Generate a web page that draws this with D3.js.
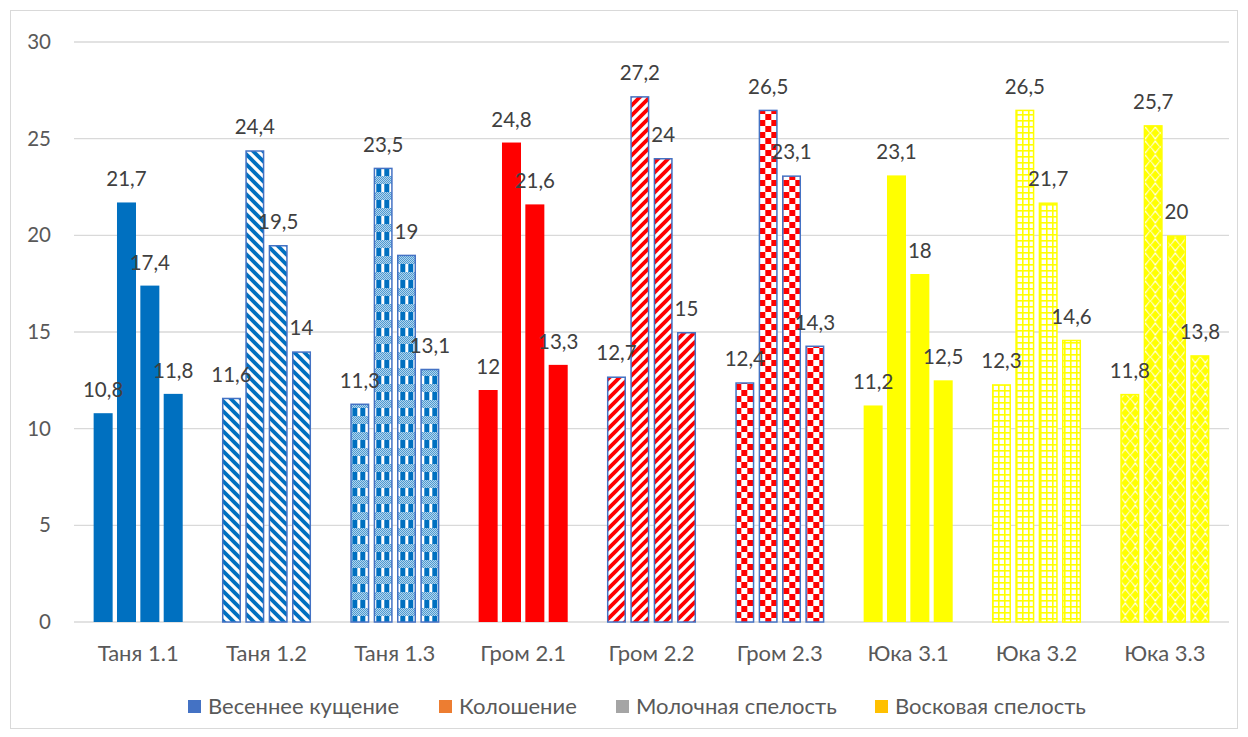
<!DOCTYPE html>
<html>
<head>
<meta charset="utf-8">
<script src="https://cdn.jsdelivr.net/npm/d3@7"></script>
<style>
  html, body { margin: 0; padding: 0; background: #fff; }
  svg { display: block; }
  text { font-family: Lato, "Open Sans", sans-serif; }
</style>
</head>
<body>
<svg id="chart" width="1248" height="737"></svg>
<script>
// Varieties / samples along the x axis
const categories = ["Таня 1.1", "Таня 1.2", "Таня 1.3", "Гром 2.1", "Гром 2.2", "Гром 2.3", "Юка 3.1", "Юка 3.2", "Юка 3.3"];
// Growth phases (legend series)
const phases = ["Весеннее кущение", "Колошение", "Молочная спелость", "Восковая спелость"];
// Values per phase, one entry per category
const springTillering = [10.8, 11.6, 11.3, 12, 12.7, 12.4, 11.2, 12.3, 11.8];
const heading = [21.7, 24.4, 23.5, 24.8, 27.2, 26.5, 23.1, 26.5, 25.7];
const milkRipeness = [17.4, 19.5, 19, 21.6, 24, 23.1, 18, 21.7, 20];
const waxRipeness = [11.8, 14, 13.1, 13.3, 15, 14.3, 12.5, 14.6, 13.8];
const yTicks = [0, 5, 10, 15, 20, 25, 30];

const seriesValues = [springTillering, heading, milkRipeness, waxRipeness];
const legendColors = ["#4472C4", "#ED7D31", "#A5A5A5", "#FFC000"];

// Fill and outline for each category's bars
const catFill = ["solid-blue", "diag-blue", "plaid-blue", "solid-red", "diag-red", "check-red", "solid-yellow", "grid-yellow", "sphere-yellow"];

const svg = d3.select("#chart");
const defs = svg.append("defs");

const BLUE = "#0070C0", RED = "#FF0000", YEL = "#FFFF00";
const NUM_FONT = 20.5, TXT_FONT = 22;

function pattern(id, w, h, draw) {
  const p = defs.append("pattern").attr("id", id)
    .attr("patternUnits", "userSpaceOnUse").attr("width", w).attr("height", h);
  p.append("rect").attr("width", w).attr("height", h).attr("fill", "#fff");
  draw(p);
}
// wide downward diagonal (blue)
pattern("diag-blue", 10, 10, p => {
  p.append("path").attr("d", "M-2,-2 L12,12 M-3,7 L3,13 M7,-3 L13,3")
    .attr("stroke", BLUE).attr("stroke-width", 3.8);
});
// wide upward diagonal (red)
pattern("diag-red", 10, 10, p => {
  p.append("path").attr("d", "M-2,12 L12,-2 M-3,3 L3,-3 M7,13 L13,7")
    .attr("stroke", RED).attr("stroke-width", 3.8);
});
// plaid (blue)
pattern("plaid-blue", 8, 16, p => {
  for (let yy = 0; yy < 8; yy++)
    for (let xx = 0; xx < 8; xx++)
      if ((xx + yy) % 2 === 0)
        p.append("rect").attr("x", xx).attr("y", yy).attr("width", 1).attr("height", 1).attr("fill", BLUE);
  p.append("rect").attr("x", 2).attr("y", 8).attr("width", 5).attr("height", 8).attr("fill", BLUE);
});
// large checkerboard (red)
pattern("check-red", 12, 12, p => {
  p.append("rect").attr("x", 0).attr("y", 0).attr("width", 6).attr("height", 6).attr("fill", RED);
  p.append("rect").attr("x", 6).attr("y", 6).attr("width", 6).attr("height", 6).attr("fill", RED);
});
// small grid (yellow)
pattern("grid-yellow", 6, 6, p => {
  p.append("rect").attr("x", 0).attr("y", 0).attr("width", 6).attr("height", 1.6).attr("fill", YEL);
  p.append("rect").attr("x", 0).attr("y", 0).attr("width", 1.6).attr("height", 6).attr("fill", YEL);
});
// sphere (yellow diamonds between white rounds)
pattern("sphere-yellow", 10, 14, p => {
  p.append("path").attr("d",
    "M0,0 L5,0 L0,7 Z M10,0 L5,0 L10,7 Z M0,14 L5,14 L0,7 Z M10,14 L5,14 L10,7 Z M5,2 L9.2,7 L5,12 L0.8,7 Z")
    .attr("fill", YEL);
});

function fillOf(key) {
  if (key === "solid-blue") return BLUE;
  if (key === "solid-red") return RED;
  if (key === "solid-yellow") return YEL;
  return "url(#" + key + ")";
}
function strokeOf(i) {
  const k = catFill[i];
  if (k.startsWith("solid")) return "none";
  if (k.endsWith("yellow")) return YEL;
  return "#4472C4";
}

// outer frame
svg.append("rect").attr("x", 10.5).attr("y", 10.5).attr("width", 1227).attr("height", 718)
  .attr("fill", "#fff").attr("stroke", "#D9D9D9");

const plotLeft = 74, plotRight = 1229;
const x0 = d3.scaleBand().domain(categories).range([plotLeft, plotRight]).paddingInner(0.306).paddingOuter(0.153);
const x1 = d3.scaleBand().domain(d3.range(phases.length)).range([0, x0.bandwidth()]).paddingInner(0.186);
const y = d3.scaleLinear().domain([0, 30]).range([622, 42]);

// gridlines
svg.append("g").selectAll("line").data(yTicks).join("line")
  .attr("x1", plotLeft).attr("x2", plotRight)
  .attr("y1", d => y(d)).attr("y2", d => y(d))
  .attr("stroke", "#D9D9D9").attr("stroke-width", 1.3);

// y axis labels
const yAxis = d3.axisLeft(y).tickValues(yTicks).tickSize(0).tickPadding(0).tickFormat(d3.format("d"));
const ya = svg.append("g").attr("transform", "translate(51,0)").call(yAxis);
ya.select(".domain").remove();
ya.selectAll("text").attr("font-size", NUM_FONT).attr("fill", "#595959").attr("font-family", "Lato, sans-serif");

// x axis labels
const xAxis = d3.axisBottom(x0).tickSize(0).tickPadding(0);
const xa = svg.append("g").attr("transform", "translate(0,645)").call(xAxis);
xa.select(".domain").remove();
xa.selectAll("text").attr("font-size", TXT_FONT).attr("fill", "#595959").attr("font-family", "Lato, sans-serif");

// bars
const groups = svg.append("g").selectAll("g").data(categories).join("g")
  .attr("transform", d => `translate(${x0(d)},0)`);

const barData = (c, ci) => seriesValues.map((vals, si) => ({ ci, si, v: vals[ci] }));

groups.each(function (c, ci) {
  const g = d3.select(this);
  const data = barData(c, ci);
  const sw = catFill[ci].startsWith("solid") ? 0 : 1.5;
  g.selectAll("rect").data(data).join("rect")
    .attr("x", d => x1(d.si) + sw / 2)
    .attr("y", d => y(d.v) + sw / 2)
    .attr("width", x1.bandwidth() - sw)
    .attr("height", d => y(0) - y(d.v) - sw / 2)
    .attr("fill", fillOf(catFill[ci]))
    .attr("stroke", strokeOf(ci))
    .attr("stroke-width", sw);
  g.selectAll("text").data(data).join("text")
    .attr("x", d => x1(d.si) + x1.bandwidth() / 2)
    .attr("y", d => y(d.v) - 16)
    .attr("text-anchor", "middle")
    .attr("font-size", NUM_FONT)
    .attr("fill", "#404040")
    .text(d => String(d.v).replace(".", ","));
});

// legend
const legendX = [188, 439, 616, 875];
const lg = svg.append("g").selectAll("g").data(phases).join("g")
  .attr("transform", (d, i) => `translate(${legendX[i]},700)`);
lg.append("rect").attr("width", 13).attr("height", 13).attr("fill", (d, i) => legendColors[i]);
lg.append("text").attr("x", 20).attr("y", 14).attr("font-size", TXT_FONT).attr("fill", "#595959").text(d => d);
</script>
</body>
</html>
